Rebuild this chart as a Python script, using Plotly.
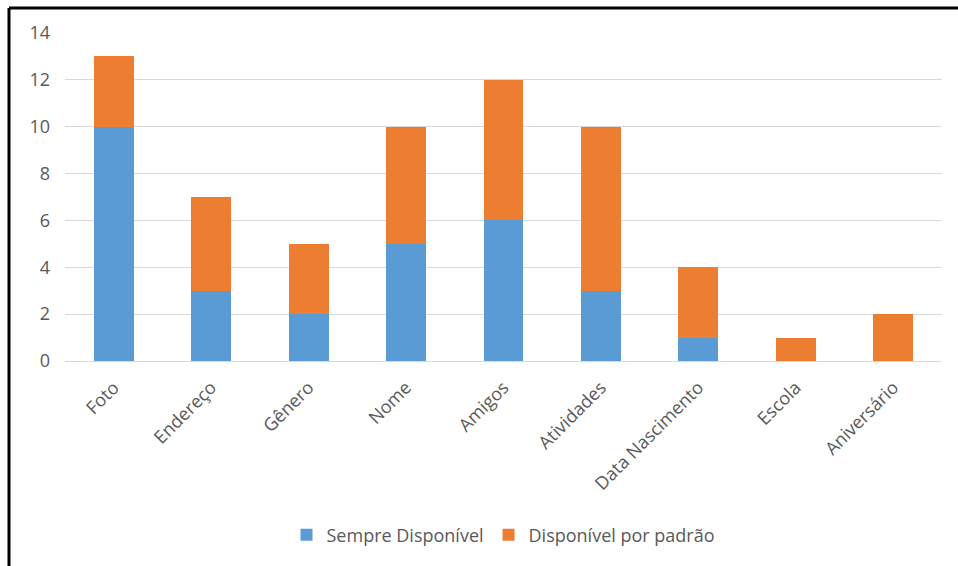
import plotly.graph_objects as go

categories = ["Foto", "Endereço", "Gênero", "Nome", "Amigos", "Atividades",
              "Data Nascimento", "Escola", "Aniversário"]
sempre = [10, 3, 2, 5, 6, 3, 1, 0, 0]
padrao = [3, 4, 3, 5, 6, 7, 3, 1, 2]
y_ticks = [0, 2, 4, 6, 8, 10, 12, 14]

FONT = "Open Sans"
GREY = "#595959"
FS = 18

fig = go.Figure()
fig.add_trace(go.Bar(x=categories, y=sempre, name="Sempre Disponível",
                     marker=dict(color="#5B9BD5", line=dict(width=0))))
fig.add_trace(go.Bar(x=categories, y=padrao, name="Disponível por padrão",
                     marker=dict(color="#ED7D31", line=dict(width=0))))

L, R, T, B = 65, 16, 33, 205
W, H = 958, 566
pw = W - L - R
ph = H - T - B

fig.update_layout(
    barmode="stack",
    bargap=0.59,
    width=W, height=H,
    margin=dict(l=L, r=R, t=T, b=B),
    paper_bgcolor="white", plot_bgcolor="white",
    font=dict(family=FONT, color=GREY, size=FS),
    legend=dict(orientation="h", x=0.5, xanchor="center",
                y=(T + ph - 535) / ph, yanchor="middle",
                font=dict(size=FS, color=GREY), itemwidth=30,
                traceorder="normal"),
    xaxis=dict(showgrid=False, showline=True, linecolor="#d9d9d9", linewidth=1,
               tickangle=-45, tickfont=dict(size=FS, color=GREY), ticks="",
               ticklabelstandoff=8),
    yaxis=dict(range=[0, 14], tickvals=y_ticks, showgrid=True, gridcolor="#d9d9d9",
               gridwidth=1, zeroline=False, showline=False,
               tickfont=dict(size=FS, color=GREY), ticklabelstandoff=14),
    shapes=[
        dict(type="line", xref="paper", yref="paper",
             x0=(9 - L) / pw, x1=(W - L) / pw,
             y0=(T + ph - 8) / ph, y1=(T + ph - 8) / ph,
             line=dict(color="black", width=3)),
        dict(type="line", xref="paper", yref="paper",
             x0=(9 - L) / pw, x1=(9 - L) / pw,
             y0=(T + ph - 8) / ph, y1=(T + ph - H) / ph,
             line=dict(color="black", width=3)),
    ],
)

fig.write_html("out.html")
